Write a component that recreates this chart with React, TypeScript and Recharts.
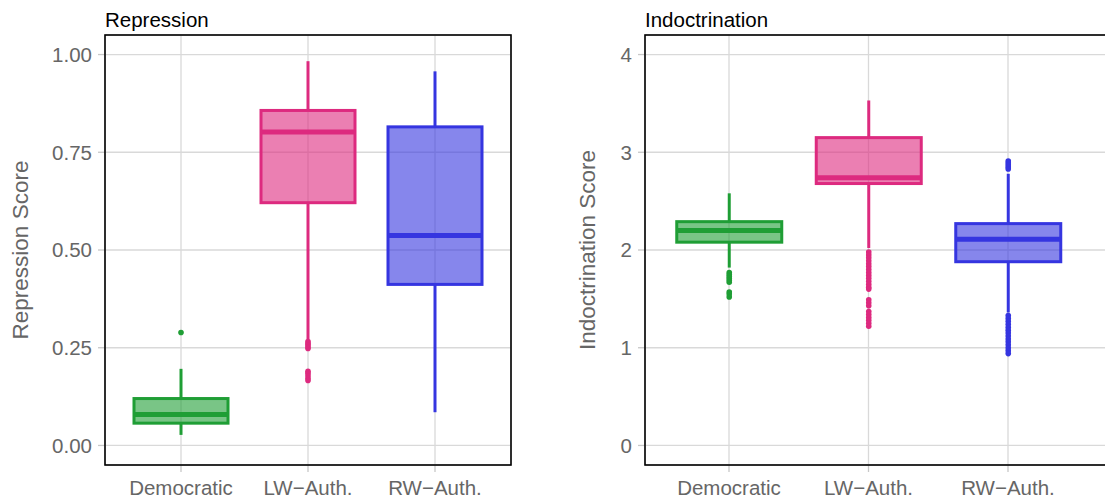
import React from 'react';
import { ComposedChart, Bar, Cell, XAxis, YAxis, CartesianGrid } from 'recharts';

// categories (ggplot uses a real minus sign in the labels)
const categories = ['Democratic', 'LW\u2212Auth.', 'RW\u2212Auth.'];

// Repression score box stats
const repMin = [0.027, 0.272, 0.085];
const repQ1 = [0.057, 0.621, 0.412];
const repMed = [0.079, 0.802, 0.537];
const repQ3 = [0.12, 0.857, 0.815];
const repMax = [0.196, 0.983, 0.957];
const repOutliers = [
  [0.289],
  [0.266, 0.261, 0.257, 0.252, 0.248, 0.19, 0.185, 0.178, 0.172, 0.166],
  [],
];
const repTicks = [0, 0.25, 0.5, 0.75, 1];

// Indoctrination score box stats
const indMin = [1.82, 2.02, 1.36];
const indQ1 = [2.08, 2.68, 1.88];
const indMed = [2.2, 2.74, 2.11];
const indQ3 = [2.29, 3.15, 2.27];
const indMax = [2.58, 3.53, 2.78];
const indOutliers = [
  [1.77, 1.75, 1.73, 1.71, 1.69, 1.67, 1.57, 1.55, 1.52],
  [1.98, 1.95, 1.92, 1.89, 1.86, 1.83, 1.8, 1.77, 1.74, 1.71, 1.68, 1.65, 1.62, 1.6,
    1.49, 1.46, 1.43, 1.37, 1.34, 1.31, 1.28, 1.25, 1.22],
  [2.91, 2.89, 2.87, 2.85, 2.83, 1.33, 1.3, 1.27, 1.24, 1.21, 1.18, 1.15, 1.12, 1.09,
    1.06, 1.03, 1.0, 0.97, 0.94],
];
const indTicks = [0, 1, 2, 3, 4];

const COLORS = ['#1f9e35', '#dd2a7f', '#3535e0'];
const FONT = '"Liberation Sans", Arial, sans-serif';
const TEXT_GREY = '#666666';
const GRID = '#d9d9d9';

const buildRows = (
  min: number[], q1: number[], med: number[], q3: number[], max: number[], out: number[][],
) =>
  categories.map((cat, i) => ({
    cat,
    box: [q1[i], q3[i]],
    min: min[i],
    q1: q1[i],
    med: med[i],
    q3: q3[i],
    max: max[i],
    outliers: out[i],
  }));

const repRows = buildRows(repMin, repQ1, repMed, repQ3, repMax, repOutliers);
const indRows = buildRows(indMin, indQ1, indMed, indQ3, indMax, indOutliers);

// box + whiskers + outliers, positioned from the bar rect that recharts scaled for [q1, q3]
const BoxShape = (props: any) => {
  const { x, width, fill } = props;
  const p = props.payload ?? props;
  const top = Math.min(props.y, props.y + props.height);
  const h = Math.abs(props.height);
  const ppu = h / (p.q3 - p.q1);
  const py = (v: number) => top + (p.q3 - v) * ppu;
  const cx = x + width / 2;
  return (
    <g>
      <line x1={cx} x2={cx} y1={py(p.max)} y2={py(p.q3)} stroke={fill} strokeWidth={3} />
      <line x1={cx} x2={cx} y1={py(p.q1)} y2={py(p.min)} stroke={fill} strokeWidth={3} />
      {p.outliers.map((v: number, k: number) => (
        <circle key={k} cx={cx} cy={py(v)} r={2.8} fill={fill} />
      ))}
      <rect x={x + 1.5} y={top} width={width - 3} height={h} fill={fill} fillOpacity={0.6}
        stroke={fill} strokeWidth={3} />
      <line x1={x + 1.5} x2={x + width - 1.5} y1={py(p.med)} y2={py(p.med)} stroke={fill} strokeWidth={5} />
    </g>
  );
};

interface PanelProps {
  title: string;
  yLabel: string;
  rows: any[];
  domain: [number, number];
  ticks: number[];
  fmt: (v: number) => string;
  left: number;
  width: number;
  yWidth: number;
  padding: { left: number; right: number };
  gap: number;
  labelOffset: number;
}

const Panel = ({ title, yLabel, rows, domain, ticks, fmt, left, width, yWidth, padding, gap, labelOffset }: PanelProps) => {
  const marginRight = 9;
  const plotLeft = yWidth;
  const plotW = width - yWidth - marginRight;
  return (
    <div style={{ position: 'absolute', left, top: 0, width, height: 500 }}>
      <div style={{ position: 'absolute', left: plotLeft, top: 8, fontSize: 20.5, fontFamily: FONT, color: '#000', whiteSpace: 'nowrap' }}>
        {title}
      </div>
      <ComposedChart width={width} height={500} data={rows}
        margin={{ top: 35, right: marginRight, bottom: 0, left: 0 }} barCategoryGap={gap}>
        <CartesianGrid stroke={GRID} strokeWidth={1.3} />
        <XAxis dataKey="cat" type="category" padding={padding} height={35}
          axisLine={false} tickSize={7} tickMargin={8}
          tickLine={{ stroke: '#c8c8c8', strokeWidth: 1.3 }}
          tick={{ fill: TEXT_GREY, fontSize: 20.5, fontFamily: FONT }} />
        <YAxis type="number" domain={domain} ticks={ticks} tickFormatter={fmt} width={yWidth}
          allowDataOverflow axisLine={false} tickSize={7} tickMargin={6} interval={0}
          tickLine={{ stroke: '#c8c8c8', strokeWidth: 1.3 }}
          tick={{ fill: TEXT_GREY, fontSize: 20.5, fontFamily: FONT }}
          label={{ value: yLabel, angle: -90, position: 'insideLeft', offset: labelOffset,
            style: { textAnchor: 'middle', fill: TEXT_GREY, fontSize: 22.5, fontFamily: FONT } }} />
        <Bar dataKey="box" shape={<BoxShape />} isAnimationActive={false}>
          {rows.map((r, i) => (
            <Cell key={r.cat} fill={COLORS[i]} />
          ))}
        </Bar>
      </ComposedChart>
      <svg style={{ position: 'absolute', left: 0, top: 0, pointerEvents: 'none' }} width={width} height={500}>
        <rect x={plotLeft} y={35} width={plotW} height={430} fill="none" stroke="#000" strokeWidth={1.6} />
      </svg>
    </div>
  );
};

export default function App() {
  return (
    <div style={{ position: 'absolute', left: 0, top: 0, width: 1105, height: 500, overflow: 'hidden', background: '#fff' }}>
      <Panel title="Repression" yLabel="Repression Score" rows={repRows} domain={[-0.05, 1.05]}
        ticks={repTicks} fmt={(v) => v.toFixed(2)} left={0} width={520} yWidth={105}
        padding={{ left: 12.5, right: 12.5 }} gap={15} labelOffset={20} />
      <Panel title="Indoctrination" yLabel="Indoctrination Score" rows={indRows} domain={[-0.2, 4.2]}
        ticks={indTicks} fmt={(v) => String(v)} left={560} width={556} yWidth={85}
        padding={{ left: 14.25, right: 29.25 }} gap={16} labelOffset={27} />
    </div>
  );
}
